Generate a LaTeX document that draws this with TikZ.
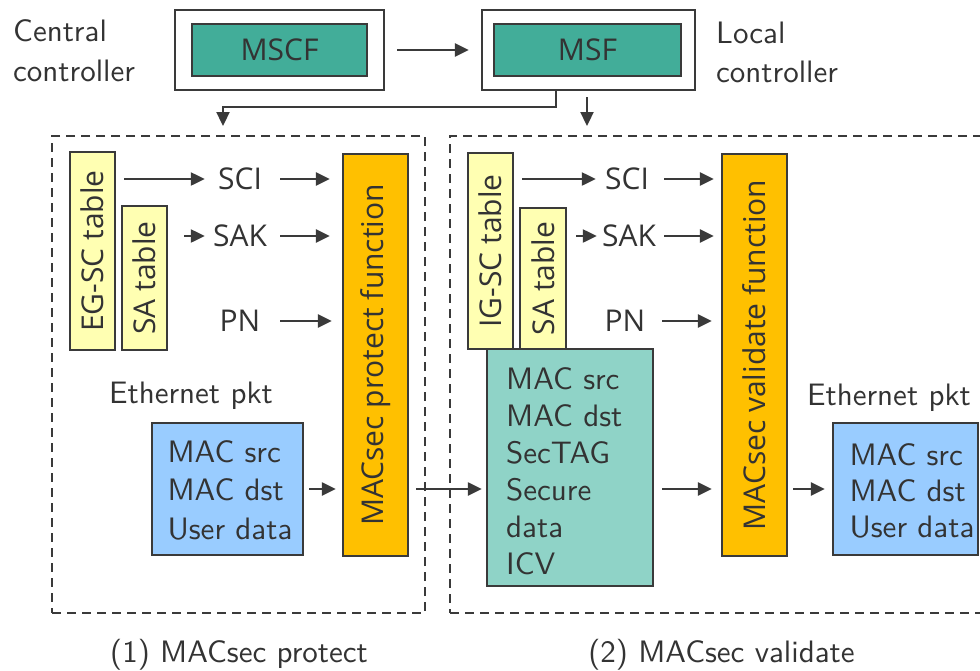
\documentclass[tikz,border=0pt]{standalone}
\usepackage{fontspec}
\usetikzlibrary{arrows.meta}
\setsansfont{lmsans10-regular.otf}
\newfontfamily\opensansfam{Open Sans}
\newcommand\lmlabfont{\sffamily\fontsize{31}{38.5}\selectfont}
\newcommand\osboxfont{\opensansfam\fontsize{30}{36}\selectfont}
\definecolor{edge}{RGB}{58,58,58}
\definecolor{ink}{RGB}{51,51,51}
\definecolor{tealdk}{RGB}{66,173,153}
\definecolor{teallt}{RGB}{143,211,199}
\definecolor{yel}{RGB}{255,255,178}
\definecolor{orng}{RGB}{255,192,0}
\definecolor{pktblue}{RGB}{153,204,255}
\begin{document}
\begin{tikzpicture}[x=1pt,y=-1pt,
  ln/.style={draw=edge, line width=2.3pt},
  arr/.style={ln, -{Triangle[length=14pt,width=13pt]}},
  box/.style={draw=edge, line width=2.3pt, inner sep=0pt, text=ink},
  dbox/.style={draw=edge, line width=2pt, dash pattern=on 9pt off 6pt, inner sep=0pt},
  lbl/.style={font=\lmlabfont, text=ink, inner sep=0pt},
  osl/.style={font=\osboxfont, text=ink},
  fld/.style={osl, inner sep=0pt, minimum width=56pt}]
\useasboundingbox (0,0) rectangle (980,670);

% controllers
\node[box, minimum width=209pt, minimum height=80pt] (mscfo) at (279.5,50) {};
\node[box, osl, fill=tealdk, minimum width=175pt, minimum height=52pt] (mscf) at (279.5,50) {MSCF};
\node[box, minimum width=213pt, minimum height=80pt] (msfo) at (588.5,50) {};
\node[box, osl, fill=tealdk, minimum width=187pt, minimum height=52pt] (msf) at (587.5,50) {MSF};
\node[lbl, align=left, anchor=west, font=\sffamily\fontsize{31}{40}\selectfont] (cc) at (13,51) {Central\\controller};
\node[lbl, align=left, anchor=west, font=\sffamily\fontsize{31}{39}\selectfont] (lc) at (716,52) {Local\\controller};

% the two dashed regions
\node[dbox, minimum width=373pt, minimum height=477pt] (lbox) at (238.5,374.5) {};
\node[dbox, minimum width=560pt, minimum height=477pt] (rbox) at (730,374.5) {};

\draw[arr, shorten <=12pt, shorten >=12pt] (mscfo) -- (msfo);
\draw[arr, shorten >=9pt] ([xshift=-32.5pt]msfo.south) -- ++(0,16) -| ([xshift=-15.5pt]lbox.north);
\draw[arr, shorten <=6pt, shorten >=9pt] ([xshift=-1.5pt]msfo.south) -- ([xshift=-1.5pt]msfo.south |- rbox.north);

% (1) protect side
\node[box, osl, fill=yel, minimum width=45pt, minimum height=198pt] (egsc) at (92.5,251) {\rotatebox{90}{EG-SC table}};
\node[box, osl, fill=yel, minimum width=45pt, minimum height=144pt] (sa1) at (144.5,278) {\rotatebox{90}{SA table}};
\node[fld] (sci1) at (240,179) {SCI};
\node[fld] (sak1) at (240,236) {SAK};
\node[fld] (pn1) at (240,321) {PN};
\node[box, osl, fill=orng, minimum width=65pt, minimum height=402pt] (prot) at (375.5,355) {\rotatebox{90}{MACsec protect function}};
\node[lbl] (eth1) at (191,396) {Ethernet pkt};
\node[box, fill=pktblue, minimum width=151pt, minimum height=132pt] (pkt1) at (227.5,489) {};
\node[lbl, align=left] (pkt1t) at (230,490) {MAC src\\MAC dst\\User data};

\draw[arr, shorten <=8pt, shorten >=7pt] (egsc.east |- sci1) -- (sci1.west);
\draw[arr, shorten <=16pt, shorten >=7pt] (sa1.east |- sak1) -- (sak1.west);
\draw[arr, shorten <=12pt, shorten >=12pt] (sci1.east) -- (prot.west |- sci1);
\draw[arr, shorten <=12pt, shorten >=12pt] (sak1.east) -- (prot.west |- sak1);
\draw[arr, shorten <=12pt, shorten >=10pt] (pn1.east) -- (prot.west |- pn1);
\draw[arr, shorten <=5pt, shorten >=6pt] (pkt1.east) -- (prot.west |- pkt1.east);

% (2) validate side
\node[box, osl, fill=yel, minimum width=45pt, minimum height=196pt] (igsc) at (490.5,251) {\rotatebox{90}{IG-SC table}};
\node[box, osl, fill=yel, minimum width=46pt, minimum height=141pt] (sa2) at (543,278.5) {\rotatebox{90}{SA table}};
\node[fld] (sci2) at (627,179) {SCI};
\node[fld] (sak2) at (629,236) {SAK};
\node[fld] (pn2) at (625,321) {PN};
\node[box, osl, fill=orng, minimum width=65pt, minimum height=402pt] (valid) at (754.5,355) {\rotatebox{90}{MACsec validate function}};
\node[box, fill=teallt, minimum width=166pt, minimum height=237pt] (frame) at (570,467.5) {};
\node[lbl, align=left, anchor=west, font=\sffamily\fontsize{31}{37}\selectfont] (framet) at (506,471) {MAC src\\MAC dst\\SecTAG\\Secure\\data\\ICV};
\node[lbl] (eth2) at (889,398) {Ethernet pkt};
\node[box, fill=pktblue, minimum width=145pt, minimum height=132pt] (pkt2) at (905.5,489) {};
\node[lbl, align=left, font=\sffamily\fontsize{31}{36}\selectfont] (pkt2t) at (912,490.5) {MAC src\\MAC dst\\User data};

\draw[arr, shorten <=8pt, shorten >=3pt] (igsc.east |- sci2) -- (sci2.west);
\draw[arr, shorten <=9pt, shorten >=4pt] (sa2.east |- sak2) -- (sak2.west);
\draw[arr, shorten <=9pt, shorten >=7pt] (sci2.east) -- (valid.west |- sci2);
\draw[arr, shorten <=7pt, shorten >=7pt] (sak2.east) -- (valid.west |- sak2);
\draw[arr, shorten <=9pt, shorten >=9pt] (pn2.east) -- (valid.west |- pn2);

% data path between and after the functions
\draw[arr, shorten <=7pt, shorten >=4pt] (prot.east |- pkt1.east) -- (frame.west |- pkt1.east);
\draw[arr, shorten <=8pt, shorten >=9pt] (frame.east |- pkt1.east) -- (valid.west |- pkt1.east);
\draw[arr, shorten <=5pt, shorten >=7pt] (valid.east |- pkt1.east) -- (pkt2.west |- pkt1.east);

% captions
\node[lbl] (cap1) at (239,655) {(1) MACsec protect};
\node[lbl] (cap2) at (721.5,655) {(2) MACsec validate};
\end{tikzpicture}
\end{document}
